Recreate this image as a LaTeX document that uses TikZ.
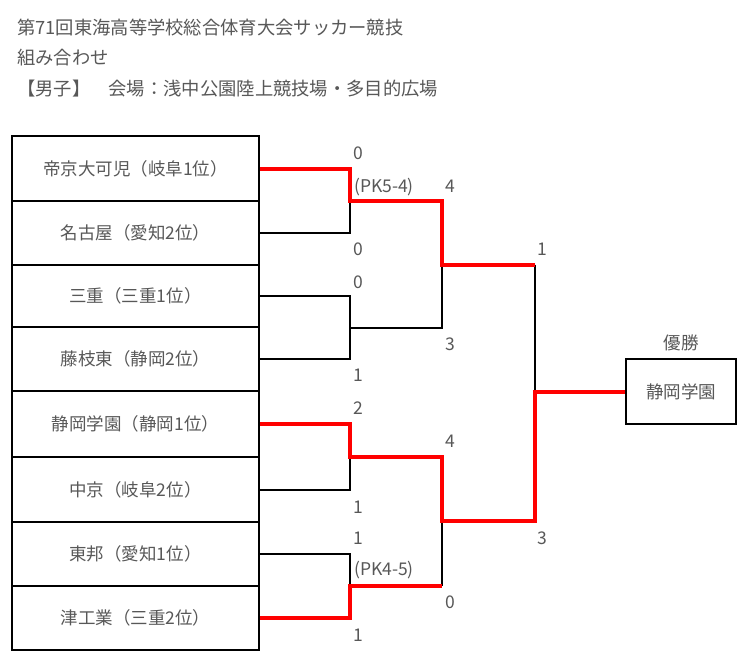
\documentclass[tikz,border=0pt]{standalone}
\usepackage{fontspec}
\setmainfont{Noto Sans CJK JP}
\definecolor{txt}{HTML}{585858}
\definecolor{winred}{HTML}{FF0000}
\begin{document}
\begin{tikzpicture}[x=1pt,y=-1pt,
  every node/.style={inner sep=0pt, text=txt, font=\fontsize{17.5}{20}\selectfont},
  team/.style={draw=black, line width=2pt, minimum width=247pt, text=txt},
  winbox/.style={draw=black, line width=2pt, minimum width=110pt, minimum height=65pt},
  blk/.style={line width=2pt, black},
  winline/.style={line width=4pt, winred},
  score/.style={text=txt},
  title/.style={anchor=west, font=\fontsize{18.3}{20}\selectfont}]
\useasboundingbox (0,0) rectangle (753,662);
\fill[white] (0,0) rectangle (753,662);

% titles
\node[title] (h1) at (17,28) {第71回東海高等学校総合体育大会サッカー競技};
\node[title] (h2) at (17,58) {組み合わせ};
\node[title] (h3) at (17,89) {【男子】　会場：浅中公園陸上競技場・多目的広場};

% teams
\node[team, minimum height=65pt] (t1) at (135.5,168.5) {帝京大可児（岐阜1位）};
\node[team, minimum height=64pt] (t2) at (135.5,233) {名古屋（愛知2位）};
\node[team, minimum height=62pt] (t3) at (135.5,296) {三重（三重1位）};
\node[team, minimum height=64pt] (t4) at (135.5,359) {藤枝東（静岡2位）};
\node[team, minimum height=66pt] (t5) at (135.5,424) {静岡学園（静岡1位）};
\node[team, minimum height=65pt] (t6) at (135.5,489.5) {中京（岐阜2位）};
\node[team, minimum height=64pt] (t7) at (135.5,554) {東邦（愛知1位）};
\node[team, minimum height=64pt] (t8) at (135.5,618) {津工業（三重2位）};

% winner
\node[winbox] (w) at (681,391.5) {静岡学園};
\node (wl) at (681,343) {優勝};

% junctions
\coordinate (j1) at (350,200.75);
\coordinate (j2) at (350,327.5);
\coordinate (j3) at (350,456.75);
\coordinate (j4) at (350,586);
\coordinate (k1) at (442,264.5);
\coordinate (k2) at (442,521.4);
\coordinate (f) at (535,391.5);

% black lines
\draw[blk] (t2.east) -| (j1);
\draw[blk] (t3.east) -| (j2);
\draw[blk] (t4.east) -| (j2);
\draw[blk] (j2) -| (k1);
\draw[blk] (t6.east) -| (j3);
\draw[blk] (t7.east) -| (j4);
\draw[blk] (j4 -| k2) -- (k2);
\draw[blk] (k1 -| f) -- (f);

% red winner lines
\draw[winline] (t1.east) -| (j1) -| (k1) -- (k1 -| f);
\draw[winline] (t5.east) -| (j3) -| (k2) -| (f) -- (w.west);
\draw[winline] (t8.east) -| (j4) -- (j4 -| k2);

% scores
\node[score] (s1) at (358,153) {0};
\node[score, anchor=west] (p1) at (354,187) {(PK5-4)};
\node[score] (s2) at (358,249) {0};
\node[score] (s3) at (358,282) {0};
\node[score] (s4) at (358,375) {1};
\node[score] (s5) at (358,408) {2};
\node[score] (s6) at (358,507) {1};
\node[score] (s7) at (358,538) {1};
\node[score, anchor=west] (p2) at (354,570) {(PK4-5)};
\node[score] (s8) at (358,635) {1};
\node[score] (r1) at (450,186) {4};
\node[score] (r2) at (450,344) {3};
\node[score] (r3) at (450,441) {4};
\node[score] (r4) at (450,602) {0};
\node[score] (q1) at (542,249) {1};
\node[score] (q2) at (542,538) {3};
\end{tikzpicture}
\end{document}
